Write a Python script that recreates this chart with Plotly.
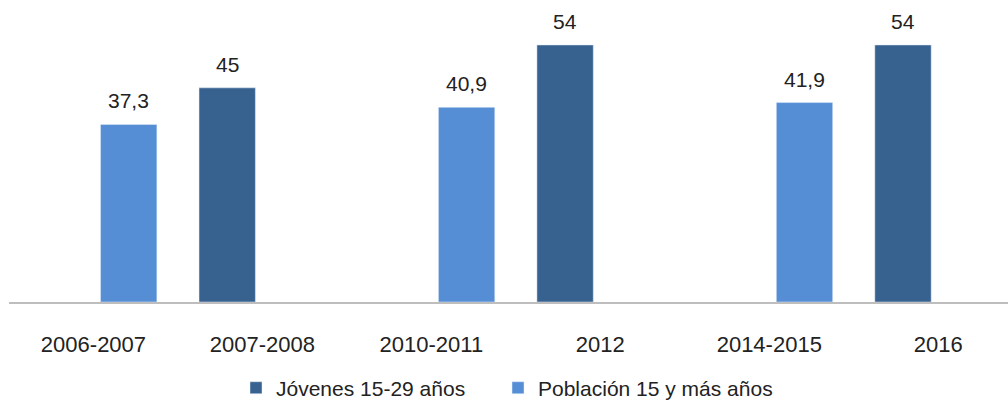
import plotly.graph_objects as go

categories = ["2006-2007", "2007-2008", "2010-2011", "2012", "2014-2015", "2016"]
jovenes = [None, 45, None, 54, None, 54]
poblacion = [37.3, None, 40.9, None, 41.9, None]
series_names = ["Jóvenes 15-29 años", "Población 15 y más años"]

DARK = "#37618F"
LIGHT = "#568ED6"
FONT = "Liberation Sans"

def fmt(v):
    return ("%g" % v).replace(".", ",")

fig = go.Figure()
fig.add_trace(go.Bar(x=categories, y=jovenes, name=series_names[0], marker_color=DARK,
                     legend="legend"))
fig.add_trace(go.Bar(x=categories, y=poblacion, name=series_names[1], marker_color=LIGHT,
                     legend="legend2"))

for vals, shift in ((jovenes, -35), (poblacion, 35)):
    for i, v in enumerate(vals):
        if v is None:
            continue
        fig.add_annotation(x=i, y=v, text=fmt(v), showarrow=False, xshift=shift,
                           yanchor="bottom", yshift=10,
                           font=dict(family=FONT, size=21, color="#222222"))

legend_style = dict(orientation="h", xref="container", yref="container",
                    xanchor="left", y=0.037, yanchor="middle",
                    font=dict(family=FONT, size=21, color="#222222"), itemwidth=30,
                    bgcolor="rgba(0,0,0,0)")

fig.update_layout(
    width=1008, height=403,
    margin=dict(l=9, r=0, t=10, b=101),
    paper_bgcolor="white", plot_bgcolor="white",
    barmode="group", bargap=0.166, bargroupgap=0.2,
    font=dict(family=FONT, size=21, color="#222222"),
    showlegend=True,
    legend=dict(x=(250 - 14) / 1008, **legend_style),
    legend2=dict(x=(512 - 14) / 1008, **legend_style),
    xaxis=dict(range=[-0.5, 5.413], showline=True, linecolor="#BEBEBE", linewidth=2,
               ticks="", showgrid=False, ticklabelstandoff=22,
               tickfont=dict(family=FONT, size=22, color="#222222")),
    yaxis=dict(range=[0, 61.35], visible=False, showgrid=False, zeroline=False),
)

fig.write_html("out.html", config={"displayModeBar": False},
               post_script="document.body.style.margin='0';document.body.style.overflow='hidden';")
